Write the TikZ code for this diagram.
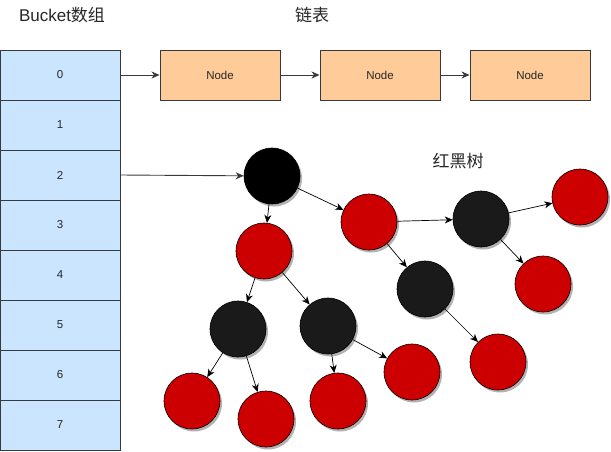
\documentclass[tikz,border=0pt]{standalone}
\usepackage{fontspec}
\setmainfont{Liberation Sans}
\newfontfamily\cjk{Noto Sans CJK SC}
\usetikzlibrary{arrows.meta,shadows}
\definecolor{bucketfill}{HTML}{CCE5FF}
\definecolor{nodefill}{HTML}{FFCC99}
\definecolor{edgegray}{HTML}{36393D}
\definecolor{rbred}{HTML}{CC0000}
\definecolor{rbblack}{HTML}{1A1A1A}
\begin{document}
\begin{tikzpicture}[x=1pt,y=-1pt,
  cell/.style={draw=edgegray,fill=bucketfill,line width=0.9pt,minimum width=120pt,minimum height=50pt,inner sep=0pt,font=\fontsize{11.5}{13}\selectfont,text=black!85},
  listnode/.style={draw=edgegray,fill=nodefill,line width=0.9pt,minimum width=120pt,minimum height=50pt,inner sep=0pt,font=\fontsize{11.5}{13}\selectfont,text=black!85},
  rb/.style={circle,draw=black,line width=0.6pt,minimum size=56pt,inner sep=0pt,
    drop shadow={shadow xshift=2pt,shadow yshift=-2.5pt,fill=black,opacity=0.3}},
  redn/.style={rb,fill=rbred},
  blackn/.style={rb,fill=rbblack},
  rootn/.style={rb,fill=black},
  listarrow/.style={draw=edgegray,line width=0.9pt,-{Stealth[length=8pt,width=7pt,inset=2.5pt]}},
  treearrow/.style={draw=black,line width=0.7pt,-{Stealth[length=8pt,width=7pt,inset=2.5pt]}},
  title/.style={font=\fontsize{17}{20}\selectfont,text=black!85}
]
\useasboundingbox (0,0) rectangle (611,451);
% bucket array
\foreach \i in {0,...,7}{
  \node[cell] (b\i) at (60,{75+50*\i}) {\i};
}
\node[title] (tbucket) at (62,15) {Bucket{\cjk 数组}};
\node[title] (tlist) at (312,15) {\cjk 链表};
\node[title] (ttree) at (458,161) {\cjk 红黑树};
% linked list
\node[listnode] (n1) at (220,75) {Node};
\node[listnode] (n2) at (380,75) {Node};
\node[listnode] (n3) at (530,75) {Node};
\draw[listarrow] (b0.east) -- (n1.west);
\draw[listarrow] (n1.east) -- (n2.west);
\draw[listarrow] (n2.east) -- (n3.west);
% tree
\node[rootn] (root) at (272,176) {};
\node[redn] (A) at (264,251) {};
\node[redn] (B) at (369,222) {};
\node[blackn] (C) at (481,219) {};
\node[redn] (D) at (580,197) {};
\node[redn] (E) at (543,284) {};
\node[blackn] (F) at (425,289) {};
\node[redn] (G) at (498,362) {};
\node[blackn] (H) at (238,329) {};
\node[blackn] (I) at (328,326) {};
\node[redn] (J) at (192,401) {};
\node[redn] (K) at (266,419) {};
\node[redn] (L) at (338,401) {};
\node[redn] (M) at (412,372) {};
\draw[listarrow] (b2.east) -- (root);
\draw[treearrow] (root) -- (A);
\draw[treearrow] (root) -- (B);
\draw[treearrow] (B) -- (C);
\draw[treearrow] (C) -- (D);
\draw[treearrow] (C) -- (E);
\draw[treearrow] (B) -- (F);
\draw[treearrow] (F) -- (G);
\draw[treearrow] (A) -- (H);
\draw[treearrow] (A) -- (I);
\draw[treearrow] (H) -- (J);
\draw[treearrow] (H) -- (K);
\draw[treearrow] (I) -- (L);
\draw[treearrow] (I) -- (M);
\end{tikzpicture}
\end{document}
